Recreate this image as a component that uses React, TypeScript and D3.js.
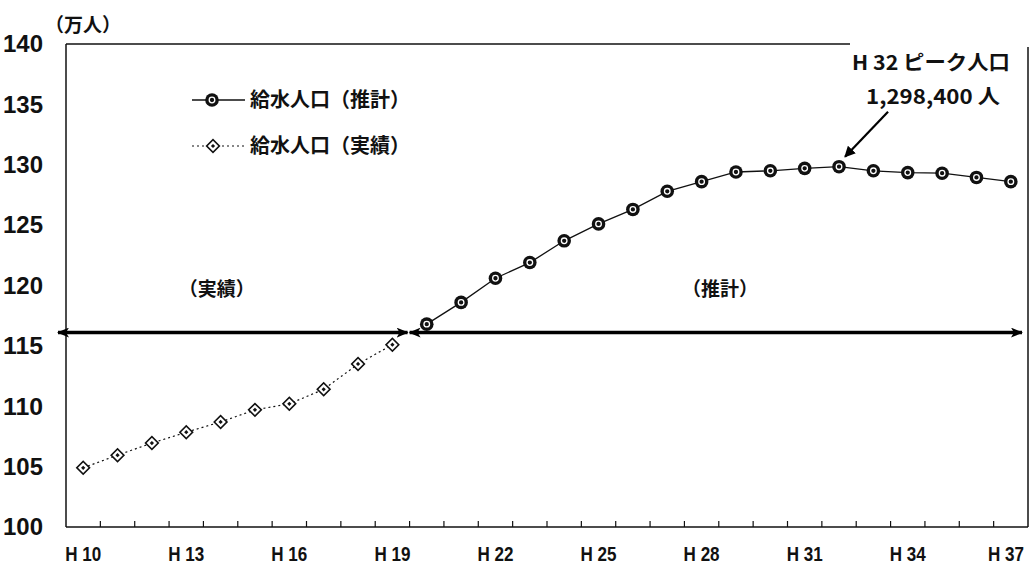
import React from "react";
import * as d3 from "d3";

const categories = ["H 10","H 11","H 12","H 13","H 14","H 15","H 16","H 17","H 18","H 19","H 20","H 21","H 22","H 23","H 24","H 25","H 26","H 27","H 28","H 29","H 30","H 31","H 32","H 33","H 34","H 35","H 36","H 37"];
const tickLabels = ["H 10","H 13","H 16","H 19","H 22","H 25","H 28","H 31","H 34","H 37"];
const yTicks = [100,105,110,115,120,125,130,135,140];
const actualYears = ["H 10","H 11","H 12","H 13","H 14","H 15","H 16","H 17","H 18","H 19"];
const actualValues = [104.9,105.95,106.95,107.85,108.7,109.7,110.2,111.4,113.5,115.1];
const forecastYears = ["H 20","H 21","H 22","H 23","H 24","H 25","H 26","H 27","H 28","H 29","H 30","H 31","H 32","H 33","H 34","H 35","H 36","H 37"];
const forecastValues = [116.8,118.6,120.6,121.9,123.7,125.1,126.3,127.8,128.6,129.4,129.5,129.7,129.84,129.5,129.35,129.3,128.95,128.6];
const periodArrowValue = 116.1;
const peakYear = "H 32";
const peakValue = 129.84;

const W = 1034, H = 576;
const L = 66, R = 1028, T = 44, B = 527;

export default function App() {
  const x = d3.scaleBand<string>().domain(categories).range([L, R]).padding(0);
  const y = d3.scaleLinear().domain([100, 140]).range([B, T]);
  const cx = (c: string) => (x(c) as number) + x.bandwidth() / 2;
  const line = d3.line<[string, number]>().x(d => cx(d[0])).y(d => y(d[1]));
  const actual: [string, number][] = actualYears.map((c, i) => [c, actualValues[i]]);
  const forecast: [string, number][] = forecastYears.map((c, i) => [c, forecastValues[i]]);
  const numFont = "'Liberation Sans', Arial, sans-serif";
  const jpFont = "'Noto Sans CJK JP', sans-serif";
  const ay = y(periodArrowValue);
  const split = (x("H 20") as number) - 2;
  const px = cx(peakYear), py = y(peakValue);

  const circleMarker = (mx: number, my: number, k: any) => (
    <g key={k}>
      <circle cx={mx} cy={my} r={6.8} fill="#111" />
      <circle cx={mx} cy={my} r={2.8} fill="none" stroke="#fff" strokeWidth={1.3} />
    </g>
  );
  const diamondMarker = (mx: number, my: number, k: any) => (
    <g key={k} transform={`translate(${mx},${my}) rotate(45)`}>
      <rect x={-4.5} y={-4.5} width={9} height={9} fill="#fff" stroke="#111" strokeWidth={1.6} />
      <rect x={-1.5} y={-1.5} width={3} height={3} fill="#111" />
    </g>
  );

  return (
    <svg width={W} height={H} style={{ position: "absolute", left: 0, top: 0, background: "#fff" }}>
      <defs>
        <marker id="ah" viewBox="0 0 12 10" refX="11" refY="5" markerWidth="12" markerHeight="10" markerUnits="userSpaceOnUse" orient="auto-start-reverse">
          <path d="M0,0 L12,5 L0,10 L3,5 Z" fill="#000" />
        </marker>
        <marker id="ah2" viewBox="0 0 10 10" refX="9" refY="5" markerWidth="11" markerHeight="11" markerUnits="userSpaceOnUse" orient="auto">
          <path d="M0,0 L10,5 L0,10 Z" fill="#000" />
        </marker>
      </defs>
      <rect x={0} y={0} width={W} height={H} fill="#fff" />
      {/* plot frame */}
      <line x1={L} y1={T} x2={850} y2={T} stroke="#111" strokeWidth={1.3} />
      <line x1={L} y1={T} x2={L} y2={B} stroke="#111" strokeWidth={1.5} />
      <line x1={R} y1={T + 3} x2={R} y2={B} stroke="#111" strokeWidth={1.5} />
      <line x1={L} y1={B} x2={R} y2={B} stroke="#111" strokeWidth={1.5} />
      {categories.slice(1).map(c => (
        <line key={c} x1={x(c) as number} x2={x(c) as number} y1={B} y2={B - 6} stroke="#111" strokeWidth={1.2} />
      ))}
      {/* y tick labels */}
      {yTicks.map(t => (
        <text key={t} x={43} y={y(t)} dy="0.36em" textAnchor="end" fontFamily={numFont} fontWeight="bold" fontSize={23} textLength={40} lengthAdjust="spacingAndGlyphs" fill="#111">{t}</text>
      ))}
      <text x={45} y={32} fontFamily={jpFont} fontWeight="bold" fontSize={19} fill="#111">（万人）</text>
      {/* x tick labels */}
      {tickLabels.map(t => (
        <text key={t} x={Math.min(cx(t), 1006)} y={561} textAnchor="middle" fontFamily={numFont} fontWeight="bold" fontSize={21} textLength={36} lengthAdjust="spacingAndGlyphs" fill="#111">{t}</text>
      ))}
      {/* period arrows */}
      <line x1={L - 8} y1={ay} x2={split} y2={ay} stroke="#000" strokeWidth={3.5} markerStart="url(#ah)" markerEnd="url(#ah)" />
      <line x1={split + 2} y1={ay} x2={R - 6} y2={ay} stroke="#000" strokeWidth={3.5} markerStart="url(#ah)" markerEnd="url(#ah)" />
      <text x={(L + split) / 2 - 20} y={y(120) + 10} textAnchor="middle" fontFamily={jpFont} fontWeight="bold" fontSize={19} fill="#111">（実績）</text>
      <text x={720} y={y(120) + 10} textAnchor="middle" fontFamily={jpFont} fontWeight="bold" fontSize={19} fill="#111">（推計）</text>
      {/* series */}
      <path d={line(actual) as string} fill="none" stroke="#111" strokeWidth={1.2} strokeDasharray="2,3" />
      <path d={line(forecast) as string} fill="none" stroke="#111" strokeWidth={1.3} />
      {actual.map((d, i) => diamondMarker(cx(d[0]), y(d[1]), "a" + i))}
      {forecast.map((d, i) => circleMarker(cx(d[0]), y(d[1]), "f" + i))}
      {/* legend */}
      <line x1={192} y1={100} x2={245} y2={100} stroke="#111" strokeWidth={1.3} />
      {circleMarker(212, 100, "lg1")}
      <text x={250} y={107} fontFamily={jpFont} fontWeight="bold" fontSize={20} textLength={160} lengthAdjust="spacingAndGlyphs" fill="#111">給水人口（推計）</text>
      <line x1={192} y1={146} x2={245} y2={146} stroke="#111" strokeWidth={1.2} strokeDasharray="2,3" />
      {diamondMarker(213, 146, "lg2")}
      <text x={250} y={153} fontFamily={jpFont} fontWeight="bold" fontSize={20} textLength={160} lengthAdjust="spacingAndGlyphs" fill="#111">給水人口（実績）</text>
      {/* peak annotation */}
      <text x={1010} y={70} textAnchor="end" fontFamily={jpFont} fontWeight="bold" fontSize={20} textLength={158} lengthAdjust="spacingAndGlyphs" fill="#111">H 32 ピーク人口</text>
      <text x={1000} y={104} textAnchor="end" fontFamily={jpFont} fontWeight="bold" fontSize={20} textLength={134} lengthAdjust="spacingAndGlyphs" fill="#111">1,298,400 人</text>
      <line x1={px + 49} y1={py - 55} x2={px + 6} y2={py - 10} stroke="#000" strokeWidth={2.2} markerEnd="url(#ah2)" />
    </svg>
  );
}
